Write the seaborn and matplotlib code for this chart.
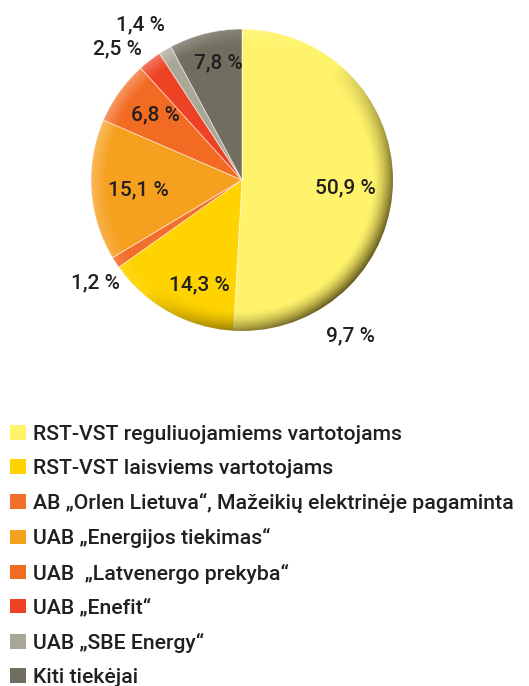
import numpy as np
import matplotlib
matplotlib.use("Agg")
import matplotlib.pyplot as plt
from matplotlib.patches import Patch, Circle
import seaborn as sns

# ---- data ----
categories = [
    "RST-VST reguliuojamiems vartotojams",
    "RST-VST laisviems vartotojams",
    "AB „Orlen Lietuva“, Mažeikių elektrinėje pagaminta",
    "UAB „Energijos tiekimas“",
    "UAB  „Latvenergo prekyba“",
    "UAB „Enefit“",
    "UAB „SBE Energy“",
    "Kiti tiekėjai",
]
shares = [50.9, 14.3, 1.2, 15.1, 6.8, 2.5, 1.4, 7.8]
share_labels = ["50,9 %", "14,3 %", "1,2 %", "15,1 %", "6,8 %", "2,5 %", "1,4 %", "7,8 %"]
extra_label = "9,7 %"

# ---- style ----
sns.set_theme(style="white")
plt.rcParams["font.family"] = ["Roboto", "DejaVu Sans"]
plt.rcParams["font.weight"] = "medium"
palette = sns.color_palette(["#FFF36C", "#FFD300", "#F16E2B", "#F6A020",
                             "#F26B23", "#EE4224", "#A9A897", "#716D5F"])
text_color = "#231F20"

W, H = 529, 686
fig = plt.figure(figsize=(W / 100, H / 100), dpi=100)
fig.patch.set_facecolor("white")

cx, cy, R = 242, 180, 151
ax = fig.add_axes([(cx - R) / W, (H - cy - R) / H, 2 * R / W, 2 * R / H])
wedges, _ = ax.pie(shares, colors=palette, startangle=90, counterclock=False,
                   radius=1.0, wedgeprops=dict(edgecolor=(1, 1, 1, 0.6), linewidth=0.6))
ax.set_xlim(-1, 1)
ax.set_ylim(-1, 1)
ax.set_aspect("equal")
ax.axis("off")

# rim shading (3D look)
n = 600
g = np.linspace(-1, 1, n)
X, Y = np.meshgrid(g, g[::-1])
Rr = np.sqrt(X ** 2 + Y ** 2)
ang = np.arctan2(Y, X)
edge = np.clip((Rr - 0.86) / 0.14, 0, 1) ** 1.6
dark = np.clip(np.cos(ang - np.deg2rad(-40)), 0, 1) ** 0.8
shade = np.zeros((n, n, 4))
shade[..., 0] = 0.18
shade[..., 1] = 0.14
shade[..., 2] = 0.0
shade[..., 3] = 0.75 * edge * dark
im = ax.imshow(shade, extent=[-1, 1, -1, 1], zorder=3, interpolation="bilinear")
im.set_clip_path(Circle((0, 0), 1.0, transform=ax.transData))
light = np.clip(np.cos(ang - np.deg2rad(150)), 0, 1)
hl = np.ones((n, n, 4))
hl[..., 3] = 0.3 * np.clip((Rr - 0.9) / 0.1, 0, 1) * light
im2 = ax.imshow(hl, extent=[-1, 1, -1, 1], zorder=3, interpolation="bilinear")
im2.set_clip_path(Circle((0, 0), 1.0, transform=ax.transData))

# ---- value labels (pixel anchors converted to data coordinates) ----
label_px = [(345, 188), (199, 285), (95, 283), (138, 190),
            (155, 115), (117, 49), (140, 25), (218, 63)]
extra_px = (350, 336)


def to_data(p):
    return ((p[0] - cx) / R, (cy - p[1]) / R)


for lab, p in zip(share_labels, label_px):
    x, y = to_data(p)
    ax.text(x, y, lab, ha="center", va="center", fontsize=15,
            color=text_color, zorder=5, clip_on=False)
x, y = to_data(extra_px)
ax.text(x, y, extra_label, ha="center", va="center", fontsize=15,
        color=text_color, zorder=5, clip_on=False)

# ---- legend ----
handles = [Patch(facecolor=c, edgecolor="none") for c in palette]
leg = fig.legend(handles, categories, loc="upper left",
                 bbox_to_anchor=(10 / W, 1 - 425 / H), frameon=False,
                 fontsize=15.3, handlelength=0.76, handleheight=0.68,
                 handletextpad=0.34, labelspacing=0.71, borderpad=0,
                 borderaxespad=0)
for t in leg.get_texts():
    t.set_color(text_color)

fig.savefig("out.png", dpi=100, facecolor="white")
